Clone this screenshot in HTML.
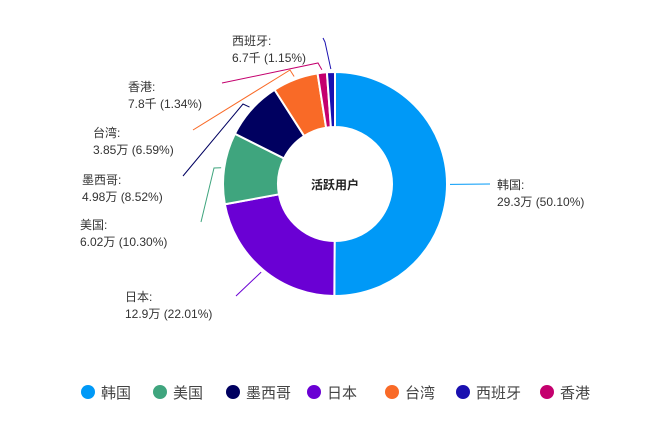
<!DOCTYPE html>
<html><head><meta charset="utf-8">
<style>
html,body{margin:0;padding:0;background:#fff;}
body{width:666px;height:427px;overflow:hidden;font-family:"Liberation Sans","Noto Sans CJK SC",sans-serif;}
text{font-family:"Liberation Sans","Noto Sans CJK SC",sans-serif;}
</style></head>
<body>
<svg id="chart" width="666" height="427" viewBox="0 0 666 427" xmlns="http://www.w3.org/2000/svg">
<g id="slices"></g>
<g id="leaders"></g>
<g id="labels"></g>
<text x="335" y="189" text-anchor="middle" font-size="12" font-weight="bold" fill="#222">活跃用户</text>
<g id="legend"></g>
</svg>
<script>
const categories=["韩国","日本","美国","墨西哥","台湾","香港","西班牙"];
const percents=[50.10,22.01,10.30,8.52,6.59,1.34,1.15];
const valueLabels=["29.3万","12.9万","6.02万","4.98万","3.85万","7.8千","6.7千"];
const colors=["#0099f7","#6a00d4","#3fa57e","#000060","#f96a27","#c4006e","#1a10b0"];
const legendOrder=["韩国","美国","墨西哥","日本","台湾","西班牙","香港"];
const labelPos=[[497,189],[125,301],[80,229],[82,184],[93,137],[128,91],[232,45]];
const elbows=[[[490,184]],[[236,296]],[[214,168],[201,222]],[[243,104],[183,176]],[[290,70],[193,130]],[[318,63],[222,83]],[[325,42],[323,38]]];
const cx=335,cy=184,R=112,r=57;
const NS="http://www.w3.org/2000/svg";
const total=percents.reduce((a,b)=>a+b,0);
function pt(a,rad){return [cx+rad*Math.sin(a),cy-rad*Math.cos(a)];}
function arcPath(a0,a1){
 const [x0,y0]=pt(a0,R),[x1,y1]=pt(a1,R),[x2,y2]=pt(a1,r),[x3,y3]=pt(a0,r);
 const lg=(a1-a0)>Math.PI?1:0;
 return `M${x0},${y0}A${R},${R} 0 ${lg} 1 ${x1},${y1}L${x2},${y2}A${r},${r} 0 ${lg} 0 ${x3},${y3}Z`;
}
const gS=document.getElementById('slices'),gL=document.getElementById('leaders'),gT=document.getElementById('labels'),gLeg=document.getElementById('legend');
let acc=0;
percents.forEach((p,i)=>{
 const a0=acc/total*2*Math.PI;acc+=p;const a1=acc/total*2*Math.PI;
 const path=document.createElementNS(NS,'path');
 path.setAttribute('d',arcPath(a0,a1));
 path.setAttribute('fill',colors[i]);path.setAttribute('stroke','#fff');path.setAttribute('stroke-width','2');
 
 
 gS.appendChild(path);
 const mid=(a0+a1)/2;const s=pt(mid,R+3);
 const pts=[s].concat(elbows[i]);
 const pl=document.createElementNS(NS,'polyline');
 pl.setAttribute('points',pts.map(q=>q.join(',')).join(' '));
 pl.setAttribute('fill','none');pl.setAttribute('stroke',colors[i]);pl.setAttribute('stroke-width','1');
 
 
 gL.appendChild(pl);
 const t=document.createElementNS(NS,'text');
 t.setAttribute('x',labelPos[i][0]);t.setAttribute('y',labelPos[i][1]);
 t.setAttribute('font-size','12');t.setAttribute('fill','#333');
 
 
 const s1=document.createElementNS(NS,'tspan');s1.textContent=categories[i]+':';
 const s2=document.createElementNS(NS,'tspan');s2.setAttribute('x',labelPos[i][0]);s2.setAttribute('dy','17');
 s2.textContent=valueLabels[i]+' ('+p.toFixed(2)+'%)';
 t.appendChild(s1);t.appendChild(s2);gT.appendChild(t);
});
const legX=[88,160,233,314,392,463,547];
legendOrder.forEach((name,j)=>{
 const i=categories.indexOf(name);
 const g=document.createElementNS(NS,'g');
 
 
 const c=document.createElementNS(NS,'circle');
 c.setAttribute('cx',legX[j]);c.setAttribute('cy',392);c.setAttribute('r',7);c.setAttribute('fill',colors[i]);
 const t=document.createElementNS(NS,'text');
 t.setAttribute('x',legX[j]+13);t.setAttribute('y',398);t.setAttribute('font-size','15');t.setAttribute('fill','#444');
 t.textContent=name;
 g.appendChild(c);g.appendChild(t);gLeg.appendChild(g);
});
</script>
</body></html>
